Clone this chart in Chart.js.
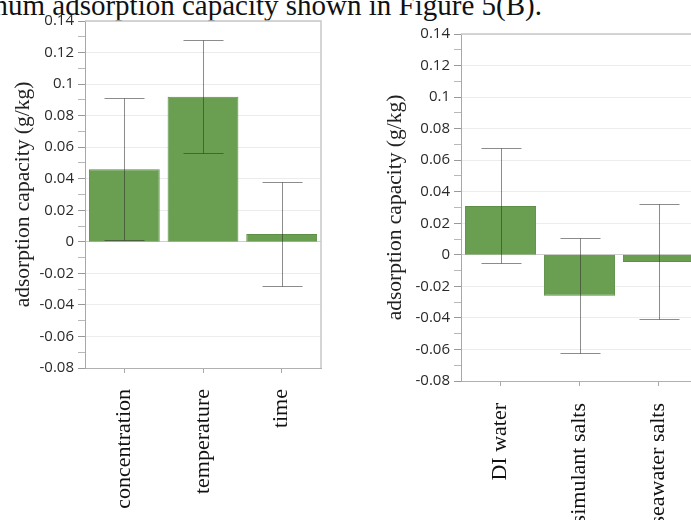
<!DOCTYPE html>
<html>
<head>
<meta charset="utf-8">
<script src="https://cdn.jsdelivr.net/npm/chart.js@4.4.1/dist/chart.umd.min.js"></script>
<style>
    html, body { margin: 0; padding: 0; background: #fff; overflow: hidden; width: 691px; height: 520px; }
    #caption {
        position: absolute; right: 149px; top: -9px;
        font: 29px 'Liberation Serif', serif; line-height: 29px;
        white-space: nowrap; color: #111;
    }
    canvas { position: absolute; top: 0; }
    #leftChart { left: 0; }
    #rightChart { left: 350px; }
</style>
</head>
<body>
<div id="caption">maximum adsorption capacity shown in Figure 5(B).</div>
<canvas id="leftChart" width="340" height="520"></canvas>
<canvas id="rightChart" width="360" height="520"></canvas>
<script>
// Data
const leftCategories = ['concentration', 'temperature', 'time'];
const leftValues = [0.046, 0.092, 0.005];
const leftErrors = [0.045, 0.036, 0.033];

const rightCategories = ['DI water', 'simulant salts', 'seawater salts'];
const rightValues = [0.031, -0.026, -0.0045];
const rightErrors = [0.0365, 0.0365, 0.0365];

// y axis: labels every 0.02, minor ticks every 0.01
const yMin = -0.08;
const yMax = 0.14;
const yStep = 0.01;

const serif = "'Liberation Serif', 'Times New Roman', serif";
const sans = "'Open Sans', 'Noto Sans', sans-serif";

// error bars drawn from the y scale
const errorBars = {
    id: 'errorBars',
    afterDatasetsDraw(chart, args, opts) {
        const ctx = chart.ctx;
        const y = chart.scales.y;
        const meta = chart.getDatasetMeta(0);
        const values = chart.data.datasets[0].data;
        ctx.save();
        ctx.strokeStyle = 'rgba(45,45,45,0.55)';
        ctx.lineWidth = 1;
        meta.data.forEach((bar, i) => {
            const x = Math.round(bar.x) + 0.5;
            const top = Math.round(y.getPixelForValue(values[i] + opts.errors[i])) + 0.5;
            const bot = Math.round(y.getPixelForValue(values[i] - opts.errors[i])) + 0.5;
            ctx.beginPath();
            ctx.moveTo(x, top); ctx.lineTo(x, bot);
            ctx.moveTo(x - 20, top); ctx.lineTo(x + 20, top);
            ctx.moveTo(x - 20, bot); ctx.lineTo(x + 20, bot);
            ctx.stroke();
        });
        ctx.restore();
    }
};

// light frame on top and right of the plot
const frame = {
    id: 'frame',
    beforeDatasetsDraw(chart) {
        const {ctx, chartArea: a} = chart;
        ctx.save();
        ctx.strokeStyle = '#c8c8c8';
        ctx.lineWidth = 1.5;
        ctx.beginPath();
        ctx.moveTo(a.left, a.top);
        ctx.lineTo(a.right, a.top);
        ctx.lineTo(a.right, a.bottom);
        ctx.stroke();
        ctx.restore();
    }
};

function tickKey(v) { return Math.round(v * 100); }

function makeChart(id, labels, values, errors, lay) {
    return new Chart(document.getElementById(id), {
        type: 'bar',
        data: {
            labels: labels,
            datasets: [{
                data: values,
                backgroundColor: '#6a9f51',
                borderColor: '#5d8f46',
                borderWidth: 1,
                barPercentage: 0.9,
                categoryPercentage: 1.0
            }]
        },
        options: {
            responsive: false,
            animation: false,
            layout: { padding: { left: lay.padLeft, top: lay.padTop, right: lay.padRight, bottom: 0 } },
            plugins: {
                legend: { display: false },
                tooltip: { enabled: false },
                errorBars: { errors: errors }
            },
            scales: {
                x: {
                    grid: { offset: false, drawOnChartArea: false, drawTicks: true, tickLength: 5, tickColor: '#a8a8a8' },
                    border: { color: '#b0b0b0', width: 1 },
                    ticks: {
                        maxRotation: 90, minRotation: 90, autoSkip: false,
                        padding: lay.labelPad,
                        color: '#111',
                        font: { family: serif, size: 22 }
                    },
                    afterFit: s => { s.height = lay.xHeight; }
                },
                y: {
                    min: yMin, max: yMax,
                    grid: {
                        tickLength: 7,
                        color: c => {
                            const k = tickKey(c.tick.value);
                            if (k === 0) return '#cfcfcf';
                            return k % 2 === 0 ? '#ececec' : 'rgba(0,0,0,0)';
                        },
                        tickColor: c => tickKey(c.tick.value) % 2 === 0 ? '#999' : '#b8b8b8'
                    },
                    border: { color: '#a8a8a8', width: 1 },
                    ticks: {
                        stepSize: yStep, autoSkip: false, padding: 4,
                        color: '#2a2a2a',
                        font: { family: sans, size: 15 },
                        callback: v => {
                            const k = tickKey(v);
                            return k % 2 === 0 ? String(k / 100) : '';
                        }
                    },
                    title: {
                        display: true,
                        text: 'adsorption capacity (g/kg)',
                        color: '#222',
                        font: { family: serif, size: 21.5 },
                        padding: { top: 4, bottom: 4 }
                    },
                    afterFit: s => { s.width = lay.yWidth; }
                }
            }
        },
        plugins: [frame, errorBars]
    });
}

makeChart('leftChart', leftCategories, leftValues, leftErrors,
    { padLeft: 6, padTop: 21, padRight: 19, yWidth: 79, xHeight: 152, labelPad: 16 });

makeChart('rightChart', rightCategories, rightValues, rightErrors,
    { padLeft: 28, padTop: 34, padRight: 12, yWidth: 83, xHeight: 139, labelPad: 17 });
</script>
</body>
</html>
